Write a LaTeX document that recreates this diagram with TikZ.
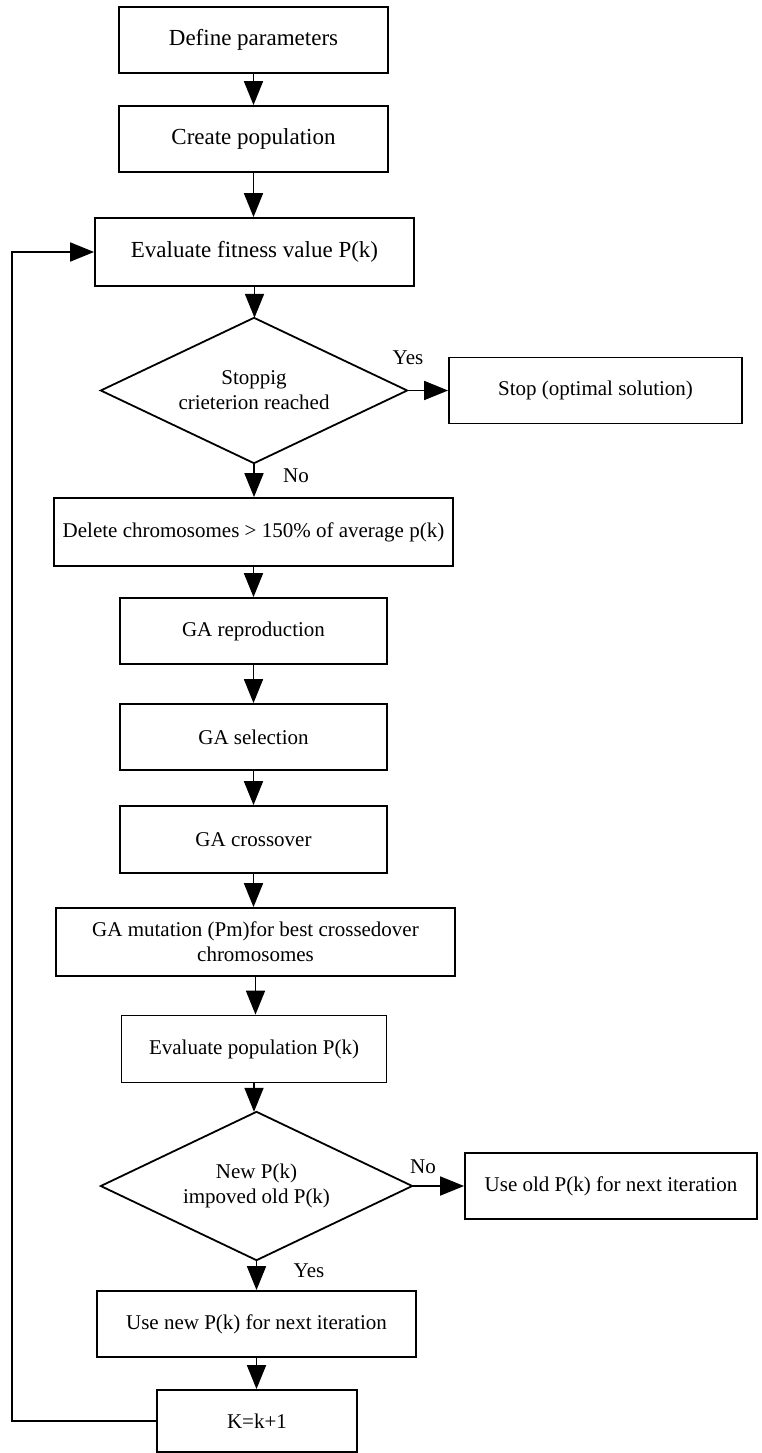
\documentclass[tikz,border=0pt]{standalone}
\usepackage{fontspec}
\setmainfont{Liberation Serif}
\usetikzlibrary{arrows.meta}
\begin{document}
\begin{tikzpicture}[x=1pt,y=-1pt,
  box/.style={draw, line width=1.8pt, inner sep=0pt, align=center, font=\fontsize{21}{25}\selectfont},
  bigbox/.style={box, font=\fontsize{23}{27}\selectfont},
  dia/.style={rectangle, inner sep=0pt, align=center, font=\fontsize{21}{25}\selectfont},
  diaedge/.style={line width=1.8pt, line join=miter},
  lbl/.style={inner sep=0pt, font=\fontsize{21}{25}\selectfont},
  arr/.style={-{Triangle[length=24pt,width=19pt]}, line width=1.8pt}]
\useasboundingbox (0,0) rectangle (761,1453);
\node[bigbox, minimum width=269pt, minimum height=66pt] (b1) at (253.5,40) {Define parameters};
\node[bigbox, minimum width=269pt, minimum height=66pt] (b2) at (253.5,139) {Create population};
\node[bigbox, minimum width=319pt, minimum height=68pt] (b3) at (254.5,252) {Evaluate fitness value P(k)};
\node[dia, minimum width=306pt, minimum height=145pt] (d1) at (254,390.5) {Stoppig\\crieterion reached};
\draw[diaedge] (d1.north) -- (d1.east) -- (d1.south) -- (d1.west) -- cycle;
\node[box, minimum width=293pt, minimum height=66pt] (stop) at (595.5,390.5) {Stop (optimal solution)};
\node[box, minimum width=399pt, minimum height=68pt] (del) at (253.5,532) {Delete chromosomes > 150\% of average p(k)};
\node[box, minimum width=267pt, minimum height=66pt] (rep) at (253.5,631) {GA reproduction};
\node[box, minimum width=267pt, minimum height=66pt] (sel) at (253.5,737) {GA selection};
\node[box, minimum width=267pt, minimum height=67pt] (cro) at (253.5,839.5) {GA crossover};
\node[box, minimum width=399pt, minimum height=68pt] (mut) at (255.5,942) {GA mutation (Pm)for best crossedover\\chromosomes};
\node[box, minimum width=265pt, minimum height=67pt] (evp) at (254,1049) {Evaluate population P(k)};
\node[dia, minimum width=311pt, minimum height=148pt] (d2) at (256.5,1186) {New P(k)\\impoved old P(k)};
\draw[diaedge] (d2.north) -- (d2.east) -- (d2.south) -- (d2.west) -- cycle;
\node[box, minimum width=292pt, minimum height=66pt] (old) at (611,1186) {Use old P(k) for next iteration};
\node[box, minimum width=319pt, minimum height=66pt] (new) at (256.5,1324) {Use new P(k) for next iteration};
\node[box, minimum width=200pt, minimum height=62pt] (k) at (257,1421) {K=k+1};
\node[lbl] (yes1) at (408,358) {Yes};
\node[lbl] (no1) at (296,476) {No};
\node[lbl] (no2) at (423,1167) {No};
\node[lbl] (yes2) at (309,1271) {Yes};
\coordinate (lc) at (12,0);
\draw[arr] (b1.south) -- (b1.south |- b2.north);
\draw[arr] (b2.south) -- (b2.south |- b3.north);
\draw[arr] (b3.south) -- (b3.south |- d1.north);
\draw[arr] (d1.east) -- (d1.east -| stop.west);
\draw[arr] (d1.south) -- (d1.south |- del.north);
\draw[arr] (del.south) -- (del.south |- rep.north);
\draw[arr] (rep.south) -- (rep.south |- sel.north);
\draw[arr] (sel.south) -- (sel.south |- cro.north);
\draw[arr] (cro.south) -- (cro.south |- mut.north);
\draw[arr] (mut.south) -- (mut.south |- evp.north);
\draw[arr] (evp.south) -- (evp.south |- d2.north);
\draw[arr] (d2.east) -- (d2.east -| old.west);
\draw[arr] (d2.south) -- (d2.south |- new.north);
\draw[arr] (new.south) -- (new.south |- k.north);
\draw[arr] (k.west) -- (k.west -| lc) |- (b3.west);
\end{tikzpicture}
\end{document}
